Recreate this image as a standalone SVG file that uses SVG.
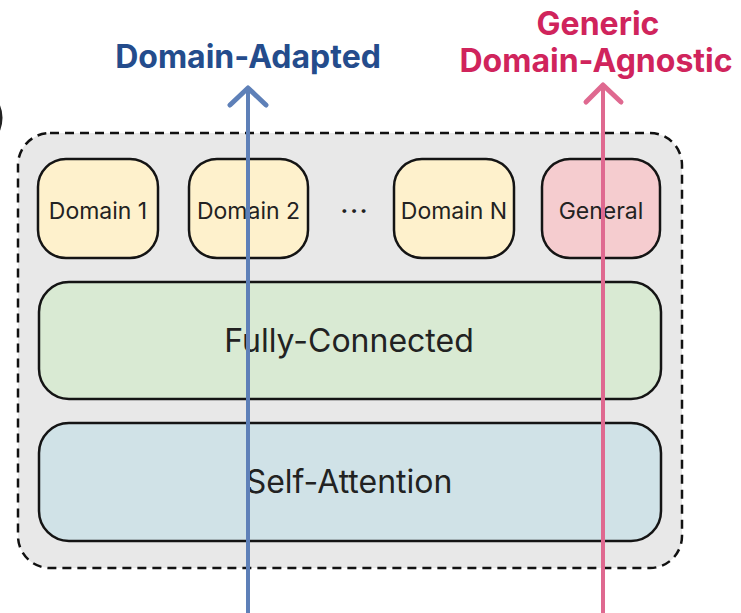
<svg xmlns="http://www.w3.org/2000/svg" width="741" height="613" viewBox="0 0 741 613">
  <style>
    .box { stroke: #141414; stroke-width: 2.5; }
    .lbl { font-family: Inter, "Noto Sans", sans-serif; fill: #222; text-anchor: middle; }
    .small { font-size: 23px; }
    .big { font-size: 32px; }
    .head { font-family: Inter, "Noto Sans", sans-serif; font-weight: 700; font-size: 32px; text-anchor: middle; }
    .wire { fill: none; stroke-linecap: round; stroke-linejoin: round; }
  </style>
  <rect width="741" height="613" fill="#ffffff"/>

  <!-- clipped edge of a neighbouring panel -->
  <path d="M -2 104 Q 4 116 -1 130" fill="none" stroke="#222" stroke-width="2.5"/>

  <!-- layer container -->
  <g id="layer">
    <rect x="18" y="133" width="664" height="435" rx="32" fill="#e8e8e8" stroke="#111" stroke-width="2.5" stroke-dasharray="9 6"/>
  </g>

  <g id="domain1">
    <rect class="box" x="38" y="159" width="120" height="99" rx="28" fill="#fef1cc"/>
    <text class="lbl small" x="98" y="219">Domain 1</text>
  </g>
  <g id="domain2">
    <rect class="box" x="189" y="159" width="119" height="99" rx="28" fill="#fef1cc"/>
    <text class="lbl small" x="248.5" y="219">Domain 2</text>
  </g>
  <g id="ellipsis">
    <text class="lbl small" x="355" y="219" letter-spacing="2" font-weight="700">···</text>
  </g>
  <g id="domainN">
    <rect class="box" x="394" y="159" width="120" height="99" rx="28" fill="#fef1cc"/>
    <text class="lbl small" x="454" y="219">Domain N</text>
  </g>
  <g id="general">
    <rect class="box" x="542" y="159" width="118" height="99" rx="28" fill="#f5cccf"/>
    <text class="lbl small" x="601" y="219">General</text>
  </g>
  <g id="fully-connected">
    <rect class="box" x="39" y="282" width="622" height="117" rx="30" fill="#d9ead3"/>
    <text class="lbl big" x="349" y="352">Fully-Connected</text>
  </g>
  <g id="self-attention">
    <rect class="box" x="39" y="423" width="622" height="118" rx="30" fill="#d0e2e7"/>
    <text class="lbl big" x="349" y="493">Self-Attention</text>
  </g>

  <!-- output paths -->
  <g id="connectors">
    <g stroke="#5e80b8">
      <line class="wire" x1="248" y1="613" x2="248" y2="90" stroke-width="4"/>
      <polyline class="wire" points="230,105 248,88 266,105" stroke-width="5"/>
    </g>
    <g stroke="#df6990">
      <line class="wire" x1="603" y1="613" x2="603" y2="86" stroke-width="4"/>
      <polyline class="wire" points="586,102 603,85 621,102" stroke-width="5"/>
    </g>
  </g>

  <g id="labels">
    <text class="head" x="248" y="68" fill="#244c8c">Domain-Adapted</text>
    <text class="head" x="598" y="35" fill="#d0245c">Generic</text>
    <text class="head" x="596" y="72" fill="#d0245c">Domain-Agnostic</text>
  </g>
</svg>
